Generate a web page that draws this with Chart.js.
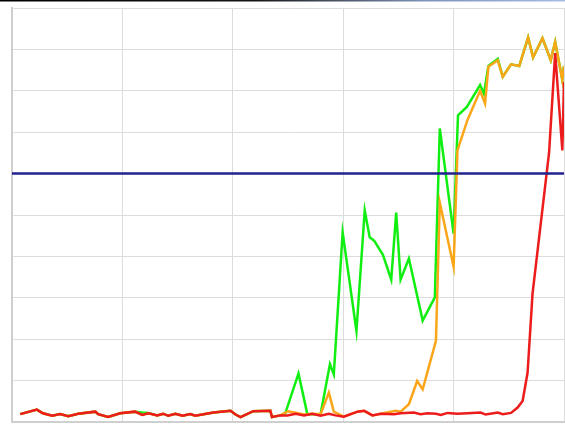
<!DOCTYPE html>
<html>
<head>
<meta charset="utf-8">
<script src="https://cdn.jsdelivr.net/npm/chart.js@4"></script>
<style>
html,body{margin:0;padding:0;background:#fff;}
#wrap{position:relative;width:565px;height:426px;}
</style>
</head>
<body>
<div id="wrap"><canvas id="c" width="565" height="426"></canvas></div>
<script>
// x positions (0..100) and values (0..100) for each series
const redX = [1.5,4.5,5.6,7.3,8.7,10.2,12.0,15.1,15.6,17.4,19.6,22.3,23.6,24.7,26.3,27.4,28.3,29.6,30.9,32.3,33.2,36.5,39.6,40.5,41.4,43.7,46.8,47.1,48.6,49.9,51.4,52.9,54.4,55.9,57.4,58.6,60.1,62.6,63.8,65.3,66.8,69.2,70.4,72.8,74.0,75.3,76.8,77.7,78.9,80.7,82.5,84.9,85.8,88.0,88.9,90.4,91.6,92.5,93.4,94.3,97.3,98.4,99.7,100];
const redY = [1.9,3.0,2.1,1.5,1.9,1.4,2.0,2.5,1.9,1.2,2.1,2.5,1.7,2.1,1.6,2.0,1.5,2.0,1.5,1.9,1.5,2.3,2.7,1.8,1.2,2.6,2.7,1.2,1.6,1.6,2.0,1.6,2.0,1.5,2.0,1.6,1.3,2.5,2.7,1.6,2.0,1.9,2.1,2.3,1.9,2.1,2.0,1.7,2.2,2.0,2.1,2.3,1.8,2.3,1.9,2.2,3.5,5.1,11.9,31.0,65.1,89.1,65.6,82.1];

const orangeX = [1.5,4.5,5.6,7.3,8.7,10.2,12.0,15.1,15.6,17.4,19.6,22.3,23.6,24.7,26.3,27.4,28.3,29.6,30.9,32.3,33.2,36.5,39.6,40.5,41.4,43.7,46.8,47.1,48.6,50.0,51.1,52.9,54.4,55.9,57.4,58.3,60.1,62.6,63.8,65.3,66.8,69.5,70.4,71.9,73.4,74.4,76.8,77.5,80.0,80.7,82.5,84.8,85.7,86.3,88.0,88.9,90.4,91.9,93.5,94.4,96.1,97.6,98.4,99.7,100];
const orangeY = [1.9,3.0,2.1,1.5,1.9,1.4,2.0,2.5,1.9,1.2,2.1,2.5,1.7,2.1,1.6,2.0,1.5,2.0,1.5,1.9,1.5,2.3,2.7,1.8,1.2,2.6,2.7,1.2,1.6,2.6,2.3,1.8,2.0,1.9,7.1,2.5,1.3,2.5,2.7,1.6,2.0,2.7,2.5,4.3,9.9,7.9,19.6,53.0,37.5,65.6,72.9,80.0,76.9,85.8,87.4,83.4,86.4,86.0,92.9,88.1,92.7,87.4,91.8,82.6,86.0];

const greenX = [1.5,4.5,5.6,7.3,8.7,10.2,12.0,15.1,15.6,17.4,19.6,22.3,23.6,24.7,26.3,27.4,28.3,29.6,30.9,32.3,33.2,36.5,39.6,40.5,41.4,43.7,46.8,47.1,48.6,49.5,51.9,53.5,55.9,57.6,58.3,59.9,62.4,63.9,64.8,65.6,67.2,68.7,69.6,70.4,71.9,74.4,76.6,77.5,80.0,80.8,82.4,84.8,85.5,86.3,88.0,88.9,90.4,91.9,93.5,94.4,96.1,97.6,98.4,99.7,100];
const greenY = [1.9,3.0,2.1,1.5,1.9,1.4,2.0,2.5,1.9,1.2,2.1,2.5,2.3,2.2,1.6,2.0,1.5,2.0,1.5,1.9,1.5,2.3,2.7,1.8,1.2,2.6,2.7,1.2,1.6,2.1,11.7,1.9,1.9,14.0,11.5,45.8,22.0,51.1,44.6,43.8,40.4,34.4,50.6,34.4,39.5,24.5,30.1,70.9,45.5,74.1,76.1,81.4,79.3,86.0,87.7,83.4,86.4,86.0,92.9,88.1,92.7,87.4,91.8,82.6,86.0];

const thresholdX = [0, 100];
const thresholdY = [60, 60];

const pts = (xs, ys) => xs.map((x, i) => ({x, y: ys[i]}));

const topBar = {
  id: 'topBar',
  afterDraw(chart) {
    const ctx = chart.ctx;
    const g = ctx.createLinearGradient(0, 0, 565, 0);
    g.addColorStop(0, '#000000');
    g.addColorStop(0.45, '#151515');
    g.addColorStop(0.75, '#7f93b8');
    g.addColorStop(1, '#a8bde0');
    ctx.save();
    ctx.fillStyle = g;
    ctx.fillRect(0, 0, 565, 1.5);
    ctx.restore();
  }
};

new Chart(document.getElementById('c'), {
  type: 'line',
  data: {
    datasets: [
      {data: pts(greenX, greenY), borderColor: '#11ee11', borderWidth: 2.5, pointRadius: 0, tension: 0, order: 4},
      {data: pts(orangeX, orangeY), borderColor: '#fba619', borderWidth: 2.5, pointRadius: 0, tension: 0, order: 3},
      {data: pts(redX, redY), borderColor: '#ec1c1c', borderWidth: 2.5, pointRadius: 0, tension: 0, order: 2},
      {data: pts(thresholdX, thresholdY), borderColor: '#22228f', borderWidth: 2.5, pointRadius: 0, tension: 0, order: 1}
    ]
  },
  options: {
    responsive: false,
    animation: false,
    layout: {padding: {left: 12, top: 8, right: 1, bottom: 4}},
    plugins: {legend: {display: false}, tooltip: {enabled: false}},
    scales: {
      x: {type: 'linear', min: 0, max: 100,
          ticks: {display: false, stepSize: 20},
          grid: {color: '#dcdcdc', lineWidth: 1, drawTicks: false},
          border: {color: '#cfcfcf', width: 2}},
      y: {type: 'linear', min: 0, max: 100,
          ticks: {display: false, stepSize: 10},
          grid: {color: '#dcdcdc', lineWidth: 1, drawTicks: false},
          border: {color: '#cfcfcf', width: 2}}
    }
  },
  plugins: [topBar]
});
</script>
</body>
</html>
